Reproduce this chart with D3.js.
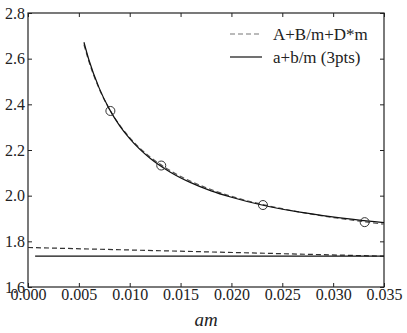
<!DOCTYPE html>
<html>
<head>
<meta charset="utf-8">
<script src="https://cdn.jsdelivr.net/npm/d3@7"></script>
<style>
  body { margin: 0; background: #fff; }
</style>
</head>
<body>
<div id="chart"></div>
<script>
// measured points
const pointX = [0.0081, 0.0131, 0.0231, 0.0331];
const pointY = [2.371, 2.132, 1.959, 1.884];

// a+b/m (3pts) curve
const fitX = [0.0055, 0.006, 0.007, 0.008, 0.009, 0.010, 0.012, 0.014, 0.016, 0.018, 0.020, 0.023, 0.026, 0.029, 0.032, 0.035];
const fitY = [2.672, 2.593, 2.471, 2.379, 2.307, 2.250, 2.164, 2.103, 2.057, 2.021, 1.993, 1.959, 1.933, 1.913, 1.896, 1.882];

// A+B/m+D*m curve
const fullX = [0.0055, 0.006, 0.007, 0.008, 0.009, 0.010, 0.012, 0.014, 0.016, 0.018, 0.020, 0.023, 0.026, 0.029, 0.032, 0.035];
const fullY = [2.662, 2.586, 2.468, 2.379, 2.310, 2.254, 2.170, 2.109, 2.063, 2.027, 1.997, 1.962, 1.934, 1.911, 1.892, 1.875];

// continuum limits
const limitFitX = [0.0007, 0.035];
const limitFitY = [1.735, 1.735];
const limitFullX = [0.0, 0.035];
const limitFullY = [1.773, 1.735];

const xTicks = [0, 0.005, 0.010, 0.015, 0.020, 0.025, 0.030, 0.035];
const yTicks = [1.6, 1.8, 2.0, 2.2, 2.4, 2.6, 2.8];
const legendLabels = ["A+B/m+D*m", "a+b/m (3pts)"];

const font = "'Liberation Serif'";

const margin = {top: 13, right: 23, bottom: 46, left: 28},
    width = 407 - margin.left - margin.right,
    height = 333 - margin.top - margin.bottom;

var svg = d3.select("#chart")
  .append("svg")
    .attr("width", 407)
    .attr("height", 333)
  .append("g")
    .attr("transform", "translate(" + margin.left + "," + margin.top + ")");

var x = d3.scaleLinear().domain([0, 0.035]).range([0, width]);
var y = d3.scaleLinear().domain([1.6, 2.8]).range([height, 0]);

function styleAxis(g) {
  g.attr("font-family", null).attr("font-size", null);
  g.select(".domain").remove();
  g.selectAll(".tick line").attr("stroke", "#222");
  g.selectAll("text").style("font-size", "16px").attr("fill", "#222")
    .style("font-family", font);
}

svg.append("g")
  .attr("transform", `translate(0,${height})`)
  .call(d3.axisBottom(x).tickValues(xTicks).tickFormat(d3.format(".3f")).tickSize(-4).tickPadding(2))
  .call(styleAxis);
svg.append("g")
  .call(d3.axisTop(x).tickValues(xTicks).tickFormat("").tickSize(-4))
  .call(styleAxis);
svg.append("g")
  .call(d3.axisLeft(y).tickValues(yTicks).tickFormat(d3.format(".1f")).tickSize(-4).tickPadding(3))
  .call(styleAxis);
svg.append("g")
  .attr("transform", `translate(${width},0)`)
  .call(d3.axisRight(y).tickValues(yTicks).tickFormat("").tickSize(-4))
  .call(styleAxis);

// frame
svg.append("rect")
  .attr("width", width)
  .attr("height", height)
  .attr("fill", "none")
  .attr("stroke", "#222")
  .attr("stroke-width", 1.2);

var line = d3.line()
  .x(d => x(d[0]))
  .y(d => y(d[1]))
  .curve(d3.curveMonotoneX);

function pairs(xs, ys) { return xs.map((v, i) => [v, ys[i]]); }

svg.append("path")
  .datum(pairs(fullX, fullY))
  .attr("fill", "none").attr("stroke", "#555").attr("stroke-width", 1.2)
  .attr("stroke-dasharray", "5,3")
  .attr("d", line);
svg.append("path")
  .datum(pairs(limitFullX, limitFullY))
  .attr("fill", "none").attr("stroke", "#333").attr("stroke-width", 1.2)
  .attr("stroke-dasharray", "5,3")
  .attr("d", line);

svg.append("path")
  .datum(pairs(fitX, fitY))
  .attr("fill", "none").attr("stroke", "#111").attr("stroke-width", 1.2)
  .attr("d", line);
svg.append("path")
  .datum(pairs(limitFitX, limitFitY))
  .attr("fill", "none").attr("stroke", "#111").attr("stroke-width", 1.2)
  .attr("d", line);

svg.append("g")
  .selectAll("circle")
  .data(pairs(pointX, pointY))
  .enter().append("circle")
  .attr("cx", d => x(d[0]))
  .attr("cy", d => y(d[1]))
  .attr("r", 4.5)
  .attr("fill", "none")
  .attr("stroke", "#333")
  .attr("stroke-width", 1);

// legend
var legend = svg.append("g").attr("transform", "translate(202,21)");
legendLabels.forEach(function(label, i) {
  legend.append("line")
    .attr("x1", 0).attr("x2", 32)
    .attr("y1", i * 23).attr("y2", i * 23)
    .attr("stroke", i == 0 ? "#777" : "#111")
    .attr("stroke-width", 1.2)
    .attr("stroke-dasharray", i == 0 ? "5,3" : null);
  legend.append("text")
    .attr("x", 43)
    .attr("y", i * 23)
    .attr("dy", "0.35em")
    .text(label)
    .style("font-family", font)
    .style("font-size", "17px")
    .attr("fill", "#222");
});

svg.append("text")
  .attr("text-anchor", "middle")
  .attr("x", width / 2)
  .attr("y", height + 39)
  .text("am")
  .style("font-family", font)
  .style("font-size", "19px")
  .style("font-style", "italic")
  .attr("fill", "#222");
</script>
</body>
</html>
